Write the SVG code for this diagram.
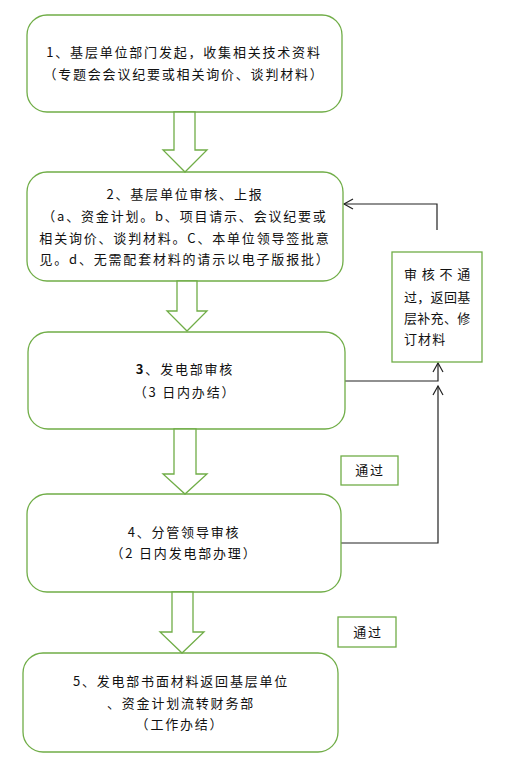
<svg xmlns="http://www.w3.org/2000/svg" width="508" height="770" viewBox="0 0 508 770">
<style>
.box{fill:#fff;stroke:#70AD47;stroke-width:1.3}
.blk{fill:#fff;stroke:#70AD47;stroke-width:1.3;stroke-linejoin:miter}
.ln{fill:none;stroke:#222;stroke-width:1.2}
text{font-family:"Noto Sans CJK SC","Liberation Sans",sans-serif;font-size:13px;fill:#111;letter-spacing:1.8px}
.c{text-anchor:middle}
</style>
<defs>
<marker id="ah" markerUnits="userSpaceOnUse" markerWidth="12" markerHeight="12" refX="10" refY="6" orient="auto">
<path d="M1,1 L10,6 L1,11" fill="none" stroke="#222" stroke-width="1.2"/>
</marker>
</defs>
<rect width="508" height="770" fill="#fff"/>
<g id="connectors">
<polyline class="ln" points="437,230 437,204 344,204" marker-end="url(#ah)"/>
<polyline class="ln" points="345,381 438,381 438,363" marker-end="url(#ah)"/>
<polyline class="ln" points="341,543 438,543 438,386" marker-end="url(#ah)"/>
</g>
<g id="node1">
<rect class="box" x="27" y="15" width="315" height="97" rx="20"/>
<text class="c" x="184" y="57">1、基层单位部门发起，收集相关技术资料</text>
<text class="c" x="184" y="79">（专题会会议纪要或相关询价、谈判材料）</text>
</g>
<g id="node2">
<rect class="box" x="27" y="172" width="316" height="109" rx="20"/>
<text class="c" x="185" y="199">2、基层单位审核、上报</text>
<text class="c" x="185" y="221">（a、资金计划。b、项目请示、会议纪要或</text>
<text class="c" x="185" y="243">相关询价、谈判材料。C、本单位领导签批意</text>
<text class="c" x="185" y="264">见。d、无需配套材料的请示以电子版报批）</text>
</g>
<g id="node3">
<rect class="box" x="28" y="332" width="317" height="97" rx="20"/>
<text class="c" x="185" y="374"><tspan font-weight="bold">3</tspan>、发电部审核</text>
<text class="c" x="185" y="397">（3 日内办结）</text>
</g>
<g id="node4">
<rect class="box" x="27" y="494" width="314" height="98" rx="20"/>
<text class="c" x="184" y="537">4、分管领导审核</text>
<text class="c" x="184" y="558">（2 日内发电部办理）</text>
</g>
<g id="node5">
<rect class="box" x="23" y="653" width="315" height="99" rx="20"/>
<text class="c" x="181" y="686">5、发电部书面材料返回基层单位</text>
<text class="c" x="181" y="708">、资金计划流转财务部</text>
<text class="c" x="180" y="729">（工作办结）</text>
</g>
<g id="reject">
<rect class="box" x="392" y="252" width="90" height="110"/>
<text x="404" y="279" textLength="68" lengthAdjust="spacing">审核不通</text>
<text x="404" y="302" textLength="68" lengthAdjust="spacing">过，返回基</text>
<text x="404" y="323" textLength="68" lengthAdjust="spacing">层补充、修</text>
<text x="404" y="344" textLength="43" lengthAdjust="spacing">订材料</text>
</g>
<g id="pass1">
<rect class="box" x="341" y="456" width="57" height="29"/>
<text class="c" x="370" y="475">通过</text>
</g>
<g id="pass2">
<rect class="box" x="338" y="617" width="58" height="30"/>
<text class="c" x="368" y="637">通过</text>
</g>
<g id="arrows">
<path class="blk" d="M174,112 L174,150 L163,150 L185,172 L207,150 L195,150 L195,112 Z"/>
<path class="blk" d="M177,281 L177,311 L167,311 L187,331 L207,311 L197,311 L197,281 Z"/>
<path class="blk" d="M174,429 L174,474 L163,474 L185,494 L207,474 L196,474 L196,429 Z"/>
<path class="blk" d="M172,592 L172,632 L160,632 L182,653 L204,632 L193,632 L193,592 Z"/>
</g>
</svg>
